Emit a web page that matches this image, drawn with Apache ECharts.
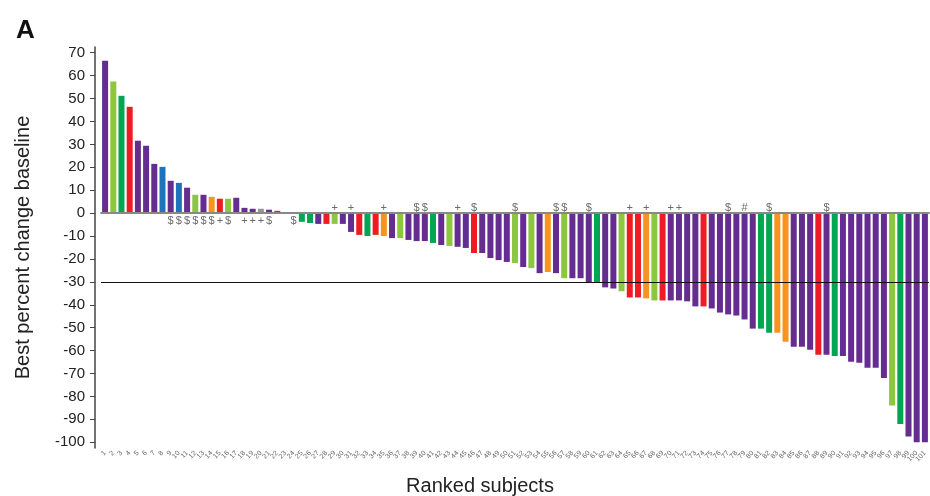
<!DOCTYPE html>
<html>
<head>
<meta charset="utf-8">
<script src="https://cdn.jsdelivr.net/npm/echarts@6/dist/echarts.min.js"></script>
<style>
  html, body { margin: 0; padding: 0; background: #fff; }
  #chart { width: 930px; height: 496px; }
</style>
</head>
<body>
<div id="chart"></div>
<script>
// best percent change for each ranked subject (1..101)
var changes = [
  66.5, 57.4, 51.2, 46.4, 31.6, 29.4, 21.5, 20.2, 14.1, 13.2,
  11.1, 8.0, 8.0, 7.1, 6.3, 6.3, 6.7, 2.3, 1.9, 1.9,
  1.5, 1.0, 0, 0, -3.8, -4.3, -4.7, -4.7, -4.7, -4.7,
  -8.2, -9.5, -10, -9.5, -10, -10.9, -10.9, -11.7, -12.2, -12.2,
  -13, -13.9, -14.3, -14.7, -15.2, -17.4, -17.4, -19.6, -20.5, -21.3,
  -21.8, -23.5, -24, -26.2, -25.7, -26.2, -28.4, -28.4, -28.4, -30.1,
  -30.1, -32.4, -32.9, -34.1, -36.8, -36.8, -37.2, -38.1, -38.1, -38.1,
  -38.1, -38.5, -40.7, -40.7, -41.6, -43.4, -44.2, -44.7, -46.4, -50.4,
  -50.4, -52.2, -52.2, -56.1, -58.3, -58.3, -59.6, -61.8, -61.8, -62.3,
  -62.3, -64.9, -65.3, -67.5, -67.5, -72, -84, -92, -97.5, -100, -100
];

// group of each subject (P purple, L light green, G green, R red, O orange, B blue, Y grey)
var groups = [
  'P','L','G','R','P','P','P','B','P','B',
  'P','L','P','O','R','L','P','P','P','Y',
  'P','R','P','P','G','G','P','R','L','P',
  'P','R','G','R','O','P','L','P','P','P',
  'G','P','L','P','P','R','P','P','P','P',
  'L','P','L','P','O','P','L','P','P','P',
  'G','P','P','L','R','R','O','L','R','P',
  'P','P','P','R','P','P','P','P','P','P',
  'G','G','O','O','P','P','P','R','P','G',
  'P','P','P','P','P','P','L','G','P','P','P'
];

// annotated subjects and their marks
var markBars = [9,10,11,12,13,14,15,16,18,19,20,21,24,29,31,35,39,40,44,46,51,56,57,60,65,67,70,71,77,79,82,89];
var markSyms = ['$','$','$','$','$','$','+','$','+','+','+','$','$','+','+','+','$','$','+','$','$','$','$','$','+','+','+','+','$','#','$','$'];

var yTicks = [70,60,50,40,30,20,10,0,-10,-20,-30,-40,-50,-60,-70,-80,-90,-100];

var palette = {
  P: '#652d90', L: '#8dc63f', G: '#00a651', R: '#ed1c24',
  O: '#f7941d', B: '#1c75bc', Y: '#939598'
};

var subjects = changes.map(function (v, i) { return String(i + 1); });

var barData = changes.map(function (v, i) {
  return { value: v, itemStyle: { color: palette[groups[i]] } };
});

var markData = markBars.map(function (b, k) {
  var neg = changes[b - 1] < 0;
  return {
    value: [b - 1, 0],
    label: {
      show: true,
      formatter: markSyms[k],
      position: neg ? 'top' : 'bottom',
      distance: neg ? 0 : 2
    }
  };
});

var myChart = echarts.init(document.getElementById('chart'));
var option = {
  animation: false,
  textStyle: { fontFamily: 'Liberation Sans, Arial, sans-serif' },
  title: {
    text: 'A',
    left: 11,
    top: 13,
    textStyle: { fontSize: 26, fontWeight: 'bold', color: '#111' }
  },
  grid: { left: 101, right: 1, top: 47, bottom: 48, outerBoundsMode: 'none' },
  xAxis: {
    type: 'category',
    data: subjects,
    name: 'Ranked subjects',
    nameLocation: 'middle',
    nameGap: 28,
    nameTextStyle: { fontSize: 20, color: '#222', padding: [0, 70, 0, 0] },
    axisLine: { lineStyle: { color: '#444', width: 1.5 } },
    axisTick: { alignWithLabel: true, length: 6, lineStyle: { color: '#444' } },
    axisLabel: { interval: 0, rotate: 45, fontSize: 7, color: '#666', margin: 4 }
  },
  yAxis: {
    type: 'value',
    min: -102.5,
    max: 72.5,
    offset: 6,
    name: 'Best percent change baseline',
    nameLocation: 'middle',
    nameGap: 62,
    nameTextStyle: { fontSize: 20, color: '#222' },
    axisLine: { show: true, lineStyle: { color: '#444', width: 1.5 } },
    axisTick: { show: true, length: 5, customValues: yTicks, lineStyle: { color: '#444' } },
    axisLabel: { fontSize: 15, color: '#222', margin: 10, customValues: yTicks },
    splitLine: { show: false }
  },
  series: [
    {
      type: 'bar',
      data: barData,
      barWidth: 6,
      markLine: {
        silent: true,
        symbol: 'none',
        label: { show: false },
        data: [
          { yAxis: 0, lineStyle: { color: '#888', width: 2, type: 'solid' } },
          { yAxis: -30, lineStyle: { color: '#111', width: 1, type: 'solid' } }
        ]
      }
    },
    {
      type: 'scatter',
      data: markData,
      symbolSize: 0,
      silent: true,
      label: { fontSize: 11, color: '#444' }
    }
  ]
};
myChart.setOption(option);
</script>
</body>
</html>
